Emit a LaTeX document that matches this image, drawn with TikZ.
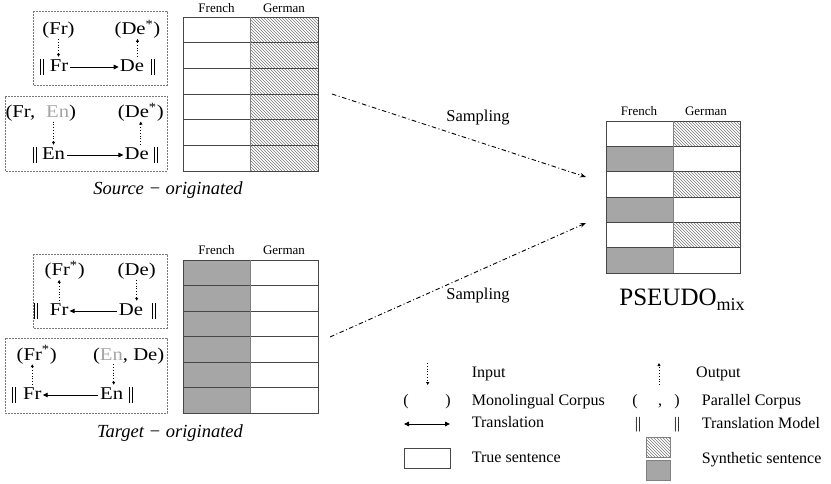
\documentclass[tikz,border=0pt]{standalone}
\usepackage{fontspec}
\usepackage{graphicx}
\setmainfont{Liberation Serif}
\usetikzlibrary{patterns,arrows.meta}
\definecolor{synth}{RGB}{166,166,166}
\definecolor{lineg}{RGB}{70,70,70}
\definecolor{boxg}{RGB}{120,120,120}
\definecolor{engrey}{RGB}{165,165,165}
\definecolor{hatchg}{RGB}{120,120,120}
\newcommand{\hwide}[1]{\scalebox{1.15}[1]{#1}}
\newcommand{\dbar}{\raisebox{-3.5pt}{\rule{1pt}{16pt}}\hspace{2pt}\raisebox{-3.5pt}{\rule{1pt}{16pt}}}
\begin{document}
\begin{tikzpicture}[x=1pt,y=-1pt,
  lbl/.style={inner sep=0pt,font=\fontsize{18}{20}\selectfont,text height=12pt,text depth=4pt},
  hdr/.style={inner sep=0pt,font=\fontsize{13}{15}\selectfont},
  leg/.style={inner sep=0pt,anchor=west,font=\fontsize{16}{18}\selectfont,text height=11pt,text depth=3pt},
  captext/.style={inner sep=0pt,font=\fontsize{18.5}{21}\selectfont\itshape},
  tr/.style={-{Triangle[length=5pt,width=4.5pt]},line width=0.9pt,shorten >=1pt,shorten <=2pt},
  trr/.style={{Triangle[length=5pt,width=4.5pt]}-,line width=0.9pt,shorten >=2pt,shorten <=1pt},
  io/.style={dotted,line width=0.8pt,-{Triangle[length=3pt,width=3pt]}},
  samp/.style={dash pattern=on 4.5pt off 2.5pt on 1pt off 2.5pt,line width=0.9pt,-{Stealth[length=6pt,width=4.5pt]}},
  dbox/.style={draw=boxg,dash pattern=on 2pt off 1pt,line width=0.8pt},
  tabl/.style={inner sep=0pt,minimum width=135pt},
  gridl/.style={draw=lineg,line width=0.8pt},
  hatch/.style={pattern=north west lines,pattern color=hatchg}
]
\useasboundingbox (0,0) rectangle (831,483);

% ---------------- Table 1 (source-originated) ----------------
\node[tabl,minimum height=154pt] (t1) at (250.5,94) {};
\fill[hatch] (250,17) rectangle (318,171);
\foreach \i in {1,...,5} \draw[gridl] (183,{17+\i*25.667}) -- (318,{17+\i*25.667});
\draw[gridl] (183,17) rectangle (318,171);
\draw[gridl,draw=gray] (250,17) -- (250,171);
\node[hdr] (h1a) at (216.5,8) {French};
\node[hdr] (h1b) at (284,8) {German};

% ---------------- Table 2 (target-originated) ----------------
\node[tabl,minimum height=153pt] (t2) at (250.5,336.5) {};
\fill[synth] (183,260) rectangle (250,413);
\foreach \i in {1,...,5} \draw[gridl] (183,{260+\i*25.5}) -- (318,{260+\i*25.5});
\draw[gridl] (183,260) rectangle (318,413);
\draw[gridl,draw=gray] (250,260) -- (250,413);
\node[hdr] (h2a) at (216.5,250) {French};
\node[hdr] (h2b) at (284,250) {German};

% ---------------- Table 3 (PSEUDO mix) ----------------
\node[tabl,minimum height=152pt] (t3) at (673,197) {};
\foreach \i in {0,2,4} \fill[hatch] (673,{121+\i*25.333}) rectangle (740,{121+(\i+1)*25.333});
\foreach \i in {1,3,5} \fill[synth] (606,{121+\i*25.333}) rectangle (673,{121+(\i+1)*25.333});
\foreach \i in {1,...,5} \draw[gridl] (606,{121+\i*25.333}) -- (740,{121+\i*25.333});
\draw[gridl] (606,121) rectangle (740,273);
\draw[gridl,draw=gray] (673,121) -- (673,273);
\node[hdr] (h3a) at (639,111) {French};
\node[hdr] (h3b) at (706,111) {German};
\node[inner sep=0pt,font=\fontsize{25}{28}\selectfont] (pm) at (682,300)
  {PSEUDO\raisebox{-5pt}{\fontsize{18}{20}\selectfont mix}};

% ---------------- Sampling arrows ----------------
\coordinate (s1) at (332,94);
\coordinate (e1) at (586,177);
\coordinate (s2) at (330,337);
\coordinate (e2) at (586,223);
\draw[samp] (s1) -- (e1);
\draw[samp] (s2) -- (e2);
\node[inner sep=0pt,font=\fontsize{16.5}{18}\selectfont] (sl1) at (478,118) {Sampling};
\node[inner sep=0pt,font=\fontsize{16.5}{18}\selectfont] (sl2) at (478,296) {Sampling};

% ---------------- Box 1 ----------------
\draw[dbox] (33,11) rectangle (167,85);
\node[lbl] (p1) at (58.5,30.7) {\hwide{(Fr)}};
\node[lbl] (p2) at (137.5,30.7) {\hwide{(De\textsuperscript{*})}};
\node[lbl] (v1) at (41.5,67) {\dbar};
\node[lbl] (m1) at (59,67) {\hwide{Fr}};
\node[lbl] (m2) at (132,67) {\hwide{De}};
\node[lbl] (v2) at (153.3,67) {\dbar};
\draw[tr] (m1.east) -- (m2.west);
\draw[io] (p1.south) -- ([yshift=2pt]p1.south |- m1.north);
\draw[io] ([yshift=2pt]p2.south |- m2.north) -- (p2.south);

% ---------------- Box 2 ----------------
\draw[dbox] (5,96.7) rectangle (167,171);
\node[lbl] (p3) at (40.8,113.3) {\hwide{(Fr,\hspace{5pt} {\color{engrey}En})}};
\node[lbl] (p4) at (140.8,113.3) {\hwide{(De\textsuperscript{*})}};
\node[lbl] (v3) at (34.5,155) {\dbar};
\node[lbl] (m3) at (53.5,155) {\hwide{En}};
\node[lbl] (m4) at (136.7,155) {\hwide{De}};
\node[lbl] (v4) at (156,155) {\dbar};
\draw[tr] (m3.east) -- (m4.west);
\draw[io] (m3.north |- p3.south) -- ([yshift=2pt]m3.north);
\draw[io] ([yshift=2pt]p4.south |- m4.north) -- (p4.south);

\node[captext] (cs) at (168,190) {Source − originated};

% ---------------- Box 3 ----------------
\draw[dbox] (33,254) rectangle (167,328);
\node[lbl] (p5) at (64.7,271.7) {\hwide{(Fr\textsuperscript{*})}};
\node[lbl] (p6) at (136.7,271.7) {\hwide{(De)}};
\node[lbl] (v5) at (36,311) {\dbar};
\node[lbl] (m5) at (59.2,311) {\hwide{Fr}};
\node[lbl] (m6) at (131,311) {\hwide{De}};
\node[lbl] (v6) at (153.5,311) {\dbar};
\draw[trr] (m5.east) -- (m6.west);
\draw[io] ([yshift=2pt]m5.north) -- (m5.north |- p5.south);
\draw[io] (p6.south) -- ([yshift=2pt]p6.south |- m6.north);

% ---------------- Box 4 ----------------
\draw[dbox] (5,338) rectangle (167,413);
\node[lbl] (p7) at (36.7,356) {\hwide{(Fr\textsuperscript{*})}};
\node[lbl] (p8) at (128.7,356) {\hwide{({\color{engrey}En}, De)}};
\node[lbl] (v7) at (14.5,395) {\dbar};
\node[lbl] (m7) at (32.3,395) {\hwide{Fr}};
\node[lbl] (m8) at (111.7,395) {\hwide{En}};
\node[lbl] (v8) at (130.5,395) {\dbar};
\draw[trr] (m7.east) -- (m8.west);
\draw[io] ([yshift=2pt]m7.north) -- (m7.north |- p7.south);
\draw[io] ([xshift=2pt]m8.north |- p8.south) -- ([xshift=2pt,yshift=2pt]m8.north);

\node[captext] (ct) at (170,433) {Target − originated};

% ---------------- Legend ----------------
\draw[io] (427.7,363) -- (427.7,385);
\node[leg] (l1) at (471.7,373) {Input};
\draw[io] (659,385) -- (659,363);
\node[leg] (l2) at (696,373) {Output};

\node[leg,anchor=center] (q1) at (406,401) {(};
\node[leg,anchor=center] (q2) at (448,401) {)};
\node[leg] (l3) at (471.7,401) {Monolingual Corpus};
\node[leg,anchor=center] (q3) at (635,401) {(};
\node[leg,anchor=center] (q4) at (660,401) {,};
\node[leg,anchor=center] (q5) at (677,401) {)};
\node[leg] (l4) at (701.7,401) {Parallel Corpus};

\draw[{Triangle[length=5pt,width=4.5pt]}-{Triangle[length=5pt,width=4.5pt]},line width=0.9pt] (404,424) -- (450,424);
\node[leg] (l5) at (471.7,423) {Translation};
\node[leg,anchor=center] (q6) at (638,424) {||};
\node[leg,anchor=center] (q7) at (677,424) {||};
\node[leg] (l6) at (701.7,424) {Translation Model};

\draw[gridl] (404,448) rectangle (450,468);
\node[leg] (l7) at (471.7,458) {True sentence};
\fill[hatch] (646.7,437.7) rectangle (670,457.3);
\draw[gridl,draw=gray] (646.7,437.7) rectangle (670,457.3);
\fill[synth] (646.7,460.7) rectangle (670,480);
\draw[gridl,draw=gray] (646.7,460.7) rectangle (670,480);
\node[leg] (l8) at (701.7,459) {Synthetic sentence};
\end{tikzpicture}
\end{document}
